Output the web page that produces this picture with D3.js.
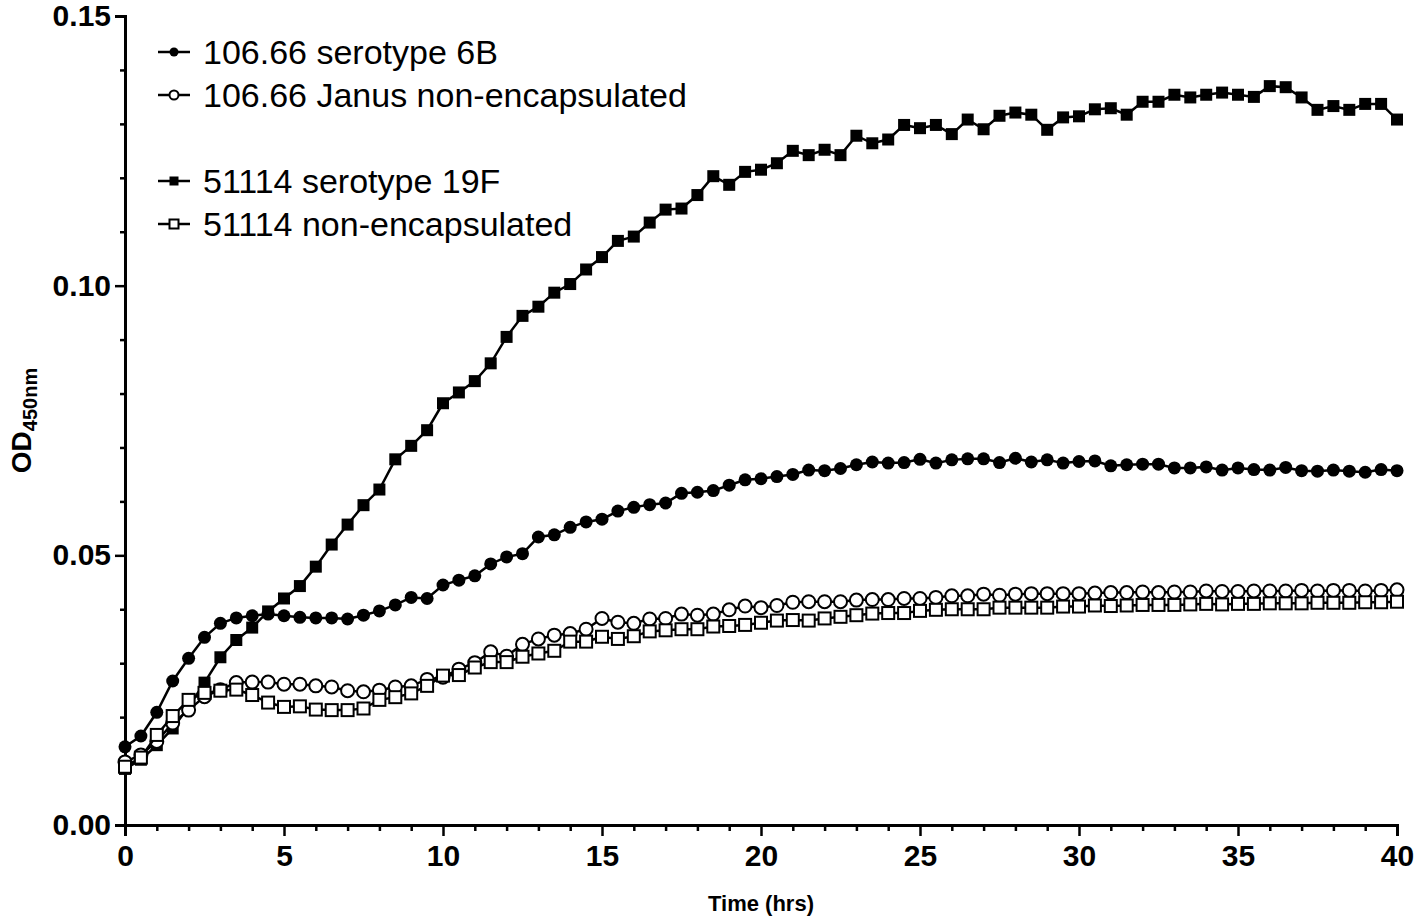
<!DOCTYPE html>
<html>
<head>
<meta charset="utf-8">
<script src="https://cdn.jsdelivr.net/npm/d3@7"></script>
<style>
  body { margin: 0; background: #fff; }
  text { font-family: "Liberation Sans", Arial, sans-serif; }
</style>
</head>
<body>
<script>
// sampling times (hrs), every 30 min
var times = d3.range(0, 40.5, 0.5);

// OD450 readings per strain
var sero6B = [0.0145,0.0165,0.0209,0.0267,0.0309,0.0348,0.0374,0.0384,0.0388,0.0391,
  0.0388,0.0385,0.0384,0.0384,0.0382,0.0389,0.0397,0.0408,0.0422,0.0420,
  0.0445,0.0454,0.0462,0.0484,0.0497,0.0503,0.0534,0.0538,0.0552,0.0562,
  0.0567,0.0582,0.0589,0.0594,0.0597,0.0615,0.0617,0.0620,0.0630,0.0640,
  0.0642,0.0646,0.0650,0.0658,0.0657,0.0661,0.0668,0.0673,0.0671,0.0672,
  0.0678,0.0671,0.0677,0.0679,0.0679,0.0672,0.0680,0.0673,0.0677,0.0671,
  0.0674,0.0675,0.0666,0.0668,0.0669,0.0669,0.0662,0.0662,0.0664,0.0658,
  0.0662,0.0659,0.0658,0.0663,0.0657,0.0656,0.0658,0.0656,0.0654,0.0659,0.0657];

var janus = [0.0117,0.0130,0.0155,0.0189,0.0213,0.0238,0.0251,0.0264,0.0265,0.0265,
  0.0261,0.0261,0.0258,0.0256,0.0249,0.0247,0.0250,0.0256,0.0258,0.0270,
  0.0274,0.0289,0.0301,0.0321,0.0313,0.0335,0.0345,0.0352,0.0355,0.0363,
  0.0383,0.0376,0.0374,0.0382,0.0383,0.0391,0.0389,0.0391,0.0399,0.0406,
  0.0403,0.0407,0.0413,0.0414,0.0414,0.0414,0.0417,0.0418,0.0418,0.0420,
  0.0420,0.0422,0.0425,0.0425,0.0428,0.0426,0.0428,0.0429,0.0429,0.0429,
  0.0429,0.0430,0.0431,0.0431,0.0432,0.0431,0.0432,0.0432,0.0434,0.0433,
  0.0433,0.0434,0.0434,0.0434,0.0435,0.0434,0.0435,0.0435,0.0434,0.0435,0.0436];

var sero19F = [0.0104,0.0121,0.0148,0.0179,0.0219,0.0264,0.0311,0.0343,0.0366,0.0396,
  0.0420,0.0443,0.0479,0.0520,0.0557,0.0593,0.0622,0.0678,0.0703,0.0732,
  0.0782,0.0802,0.0823,0.0856,0.0905,0.0944,0.0961,0.0987,0.1003,0.1030,
  0.1053,0.1083,0.1091,0.1117,0.1141,0.1143,0.1168,0.1203,0.1187,0.1211,
  0.1215,0.1227,0.1250,0.1242,0.1252,0.1242,0.1278,0.1264,0.1271,0.1298,
  0.1292,0.1298,0.1281,0.1308,0.1290,0.1315,0.1321,0.1317,0.1289,0.1312,
  0.1314,0.1327,0.1329,0.1317,0.1341,0.1341,0.1354,0.1349,0.1354,0.1358,
  0.1354,0.1350,0.1370,0.1368,0.1349,0.1326,0.1333,0.1326,0.1337,0.1337,0.1308];

var nonEncap = [0.0108,0.0125,0.0167,0.0202,0.0232,0.0245,0.0249,0.0251,0.0241,0.0227,
  0.0219,0.0220,0.0214,0.0213,0.0213,0.0216,0.0232,0.0237,0.0244,0.0258,
  0.0277,0.0278,0.0292,0.0302,0.0302,0.0312,0.0318,0.0323,0.0340,0.0340,
  0.0349,0.0345,0.0350,0.0359,0.0361,0.0363,0.0363,0.0368,0.0369,0.0371,
  0.0375,0.0379,0.0380,0.0379,0.0383,0.0386,0.0389,0.0392,0.0393,0.0393,
  0.0397,0.0399,0.0400,0.0400,0.0400,0.0403,0.0403,0.0403,0.0403,0.0405,
  0.0405,0.0407,0.0406,0.0407,0.0408,0.0408,0.0408,0.0409,0.0410,0.0409,
  0.0410,0.0410,0.0411,0.0411,0.0411,0.0412,0.0412,0.0412,0.0413,0.0413,0.0414];

var legendNames = ["106.66 serotype 6B", "106.66 Janus non-encapsulated",
                   "51114 serotype 19F", "51114 non-encapsulated"];
var xTicks = [0, 5, 10, 15, 20, 25, 30, 35, 40];
var yTicks = [0, 0.05, 0.10, 0.15];

var series = [
  { name: legendNames[2], values: sero19F, shape: "square", filled: true, legendY: 181 },
  { name: legendNames[0], values: sero6B, shape: "circle", filled: true, legendY: 52 },
  { name: legendNames[1], values: janus, shape: "circle", filled: false, legendY: 95 },
  { name: legendNames[3], values: nonEncap, shape: "square", filled: false, legendY: 224 }
];

var svgWidth = 1418, svgHeight = 918;
var margin = { top: 16, right: 21, bottom: 93, left: 125 };

var svg = d3.select("body").append("svg")
  .attr("width", svgWidth)
  .attr("height", svgHeight);

var x = d3.scaleLinear().domain([0, 40]).range([margin.left, svgWidth - margin.right]);
var y = d3.scaleLinear().domain([0, 0.15]).range([svgHeight - margin.bottom, margin.top]);

// axes - major then minor ticks
var xAxis = svg.append("g")
  .attr("transform", `translate(0, ${y(0)})`)
  .call(d3.axisBottom(x).tickValues(xTicks).tickSize(11).tickPadding(6).tickFormat(d3.format("d")));
svg.append("g")
  .attr("transform", `translate(0, ${y(0)})`)
  .call(d3.axisBottom(x).tickValues(d3.range(0, 41, 1).filter(d => d % 5)).tickSize(6).tickFormat(""))
  .select(".domain").remove();

var yAxis = svg.append("g")
  .attr("transform", `translate(${x(0)}, 0)`)
  .call(d3.axisLeft(y).tickValues(yTicks).tickSize(10).tickPadding(4).tickFormat(d3.format(".2f")));
svg.append("g")
  .attr("transform", `translate(${x(0)}, 0)`)
  .call(d3.axisLeft(y).tickValues(d3.range(1, 15).filter(d => d % 5).map(d => d / 100)).tickSize(5).tickFormat(""))
  .select(".domain").remove();

svg.selectAll(".domain").attr("stroke", "#000").attr("stroke-width", 3);
svg.selectAll(".tick line").attr("stroke", "#000").attr("stroke-width", 2.5);
svg.selectAll(".tick text")
  .attr("fill", "#000")
  .style("font-size", "30px")
  .style("font-weight", "bold");
xAxis.selectAll(".tick text").attr("dy", "0.8em");

// axis titles
svg.append("text")
  .attr("x", x(20))
  .attr("y", 911)
  .attr("text-anchor", "middle")
  .style("font-size", "22px")
  .style("font-weight", "bold")
  .text("Time (hrs)");

var yTitle = svg.append("text")
  .attr("transform", `translate(31, ${y(0.075)}) rotate(-90)`)
  .attr("text-anchor", "middle")
  .style("font-weight", "bold");
yTitle.append("tspan").style("font-size", "28px").text("OD");
yTitle.append("tspan").style("font-size", "20px").attr("dy", 6).text("450nm");

// lines and markers
var line = d3.line()
  .x((d, i) => x(times[i]))
  .y(d => y(d));

function drawMarker(sel, s, size) {
  if (s.shape === "circle") {
    sel.append("circle").attr("r", size / 2);
  } else {
    sel.append("rect").attr("x", -size / 2).attr("y", -size / 2)
      .attr("width", size).attr("height", size);
  }
  sel.selectAll("circle, rect")
    .attr("fill", s.filled ? "#000" : "#fff")
    .attr("stroke", "#000")
    .attr("stroke-width", s.filled ? 0 : 2);
}

series.forEach(function(s) {
  var g = svg.append("g");
  g.append("path")
    .datum(s.values)
    .attr("d", line)
    .attr("fill", "none")
    .attr("stroke", "#000")
    .attr("stroke-width", 2.5);
  g.selectAll(".pt")
    .data(s.values)
    .enter()
    .append("g")
    .attr("class", "pt")
    .attr("transform", (d, i) => `translate(${x(times[i])}, ${y(d)})`)
    .each(function() { drawMarker(d3.select(this), s, s.shape === "circle" ? 13 : 12); });
});

// legend
series.forEach(function(s) {
  var lg = svg.append("g").attr("transform", `translate(174, ${s.legendY})`);
  lg.append("line").attr("x1", -16).attr("x2", 16)
    .attr("stroke", "#000").attr("stroke-width", 2.5);
  drawMarker(lg, s, 9);
  lg.append("text")
    .attr("x", 29)
    .attr("dy", "0.36em")
    .style("font-size", "34px")
    .text(s.name);
});
</script>
</body>
</html>
